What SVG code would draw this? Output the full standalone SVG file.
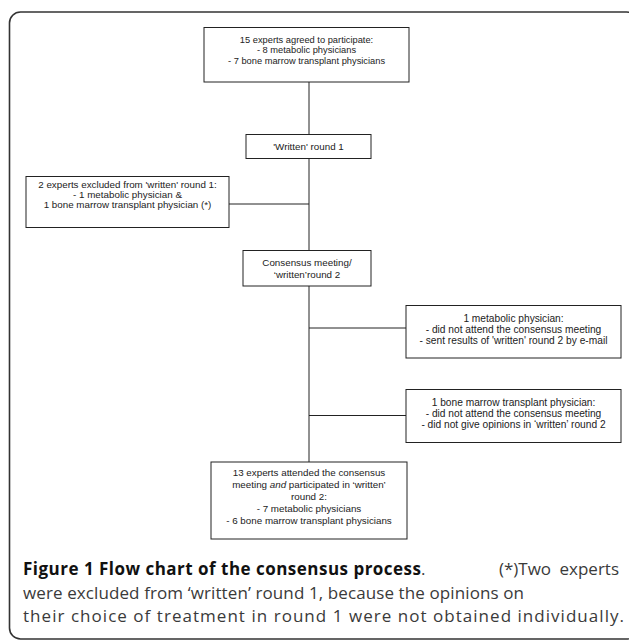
<svg xmlns="http://www.w3.org/2000/svg" width="629" height="640" viewBox="0 0 629 640">
<style>
.bx{fill:#fff;stroke:#222;stroke-width:1}
.t{font-family:"Liberation Sans",Arial,sans-serif;font-size:9.3px;fill:#222;text-anchor:middle}
.m{font-size:9.8px}
.l{font-size:10.2px}
.c{stroke:#222;stroke-width:1;fill:none}
.cap{font-family:"Open Sans","Liberation Sans",sans-serif;font-size:17px;fill:#3a3a3a}
.capb{font-weight:bold;fill:#111;font-size:17px}
</style>
<rect x="0" y="0" width="629" height="640" fill="#fff"/>
<rect x="9.5" y="12" width="628" height="627" rx="11" fill="none" stroke="#333" stroke-width="1.6"/>
<g id="connectors">
<line class="c" x1="309" y1="82" x2="309" y2="462"/>
<line class="c" x1="229" y1="204" x2="309" y2="204"/>
<line class="c" x1="309" y1="328" x2="406" y2="328"/>
<line class="c" x1="309" y1="415.5" x2="406" y2="415.5"/>
</g>
<g id="n1">
<rect class="bx" x="204" y="27.5" width="205" height="54.5"/>
<text class="t" x="306.5" y="42.5">15 experts agreed to participate:</text>
<text class="t" x="306.5" y="53.2">- 8 metabolic physicians</text>
<text class="t" x="306.5" y="64">- 7 bone marrow transplant physicians</text>
</g>
<g id="n2">
<rect class="bx" x="246" y="134.5" width="125" height="24"/>
<text class="t m" x="308.5" y="149.5">'Written' round 1</text>
</g>
<g id="n3">
<rect class="bx" x="26" y="176.5" width="203" height="51"/>
<text class="t m" x="127.5" y="187.5">2 experts excluded from 'written' round 1:</text>
<text class="t m" x="127.5" y="197.8">- 1 metabolic physician &amp;</text>
<text class="t m" x="127.5" y="208">1 bone marrow transplant physician (*)</text>
</g>
<g id="n4">
<rect class="bx" x="243" y="250.5" width="128" height="35.5"/>
<text class="t m" x="307" y="265.5">Consensus meeting/</text>
<text class="t m" x="307" y="277.5">‘written’round 2</text>
</g>
<g id="n5">
<rect class="bx" x="406" y="305.5" width="215" height="52.5"/>
<text class="t l" x="513.5" y="321.5">1 metabolic physician:</text>
<text class="t l" x="513.5" y="332.5">- did not attend the consensus meeting</text>
<text class="t l" x="513.5" y="343.5">- sent results of 'written' round 2 by e-mail</text>
</g>
<g id="n6">
<rect class="bx" x="406" y="389.5" width="215" height="53"/>
<text class="t l" x="513.5" y="405.5">1 bone marrow transplant physician:</text>
<text class="t l" x="513.5" y="416.5">- did not attend the consensus meeting</text>
<text class="t l" x="513.5" y="427.5">- did not give opinions in ‘written’ round 2</text>
</g>
<g id="n7">
<rect class="bx" x="211" y="462" width="196" height="77"/>
<text class="t m" x="309" y="476">13 experts attended the consensus</text>
<text class="t m" x="309" y="488">meeting <tspan font-style="italic">and</tspan> participated in ‘written’</text>
<text class="t m" x="309" y="500">round 2:</text>
<text class="t m" x="309" y="512">- 7 metabolic physicians</text>
<text class="t m" x="309" y="524">- 6 bone marrow transplant physicians</text>
</g>
<g id="caption">
<text class="cap" x="23" y="575" textLength="398" lengthAdjust="spacing"><tspan class="capb">Figure 1 Flow chart of the consensus process</tspan></text>
<text class="cap" x="421" y="575">.</text>
<text class="cap" x="619" y="575" text-anchor="end" word-spacing="4">(*)Two experts</text>
<text class="cap" x="23" y="598.5" textLength="501" lengthAdjust="spacing">were excluded from ‘written’ round 1, because the opinions on</text>
<text class="cap" x="23" y="622" textLength="601" lengthAdjust="spacing">their choice of treatment in round 1 were not obtained individually.</text>
</g>
</svg>
